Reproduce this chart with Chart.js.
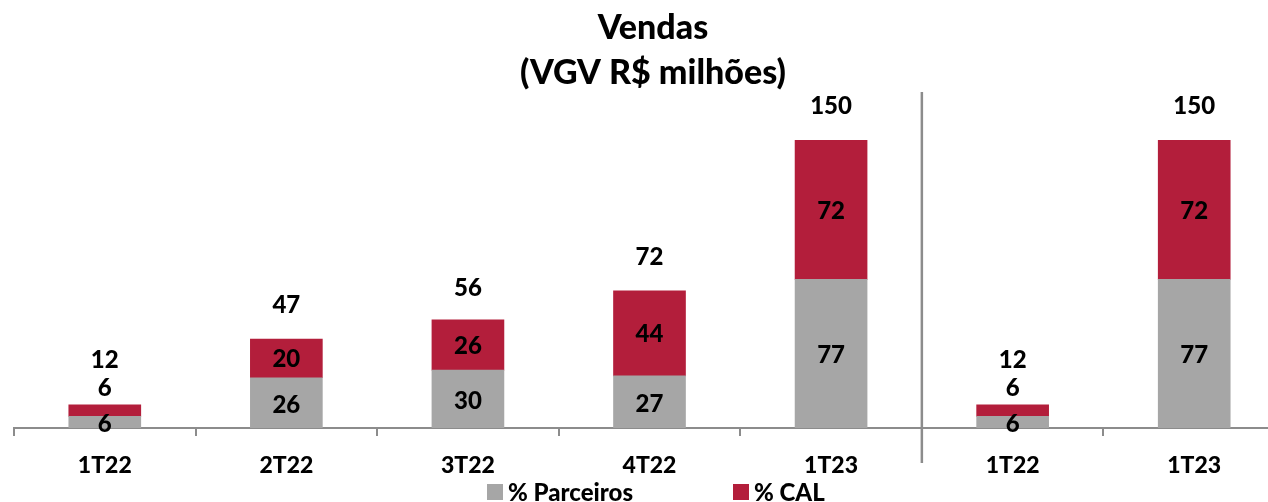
<!DOCTYPE html>
<html><head><meta charset="utf-8">
<script src="https://cdn.jsdelivr.net/npm/chart.js@4"></script>
<style>html,body{margin:0;padding:0;overflow:hidden;background:#fff}#wrap{width:1300px;height:502px;position:relative}</style>
</head><body><div id="wrap"><canvas id="c"></canvas></div>
<script>
const categories=['1T22','2T22','3T22','4T22','1T23','1T22','1T23'];
const parceiros=[6,26,30,27,77,6,77];
const cal=[6,20,26,44,72,6,72];
const totals=[12,47,56,72,150,12,150];
const seriesNames=['% Parceiros','% CAL'];
const titleLines=['Vendas','(VGV R$ milhões)'];
const separatorAfter=4;

const GRAY='#A6A6A6', RED='#B31E3B', FONT='Lato, "Open Sans", sans-serif', W='900';

const decor={
  id:'decor',
  afterDatasetsDraw(chart){
    const {ctx,scales:{x,y}}=chart;
    ctx.save();
    ctx.fillStyle='#000';
    ctx.textAlign='center';ctx.textBaseline='middle';
    ctx.font=W+' 34px '+FONT;
    ctx.fillText(titleLines[0],653,28);
    ctx.fillText(titleLines[1],653,73);
    const sx=(x.getPixelForValue(separatorAfter)+x.getPixelForValue(separatorAfter+1))/2;
    ctx.strokeStyle='#8C8C8C';ctx.lineWidth=2.5;
    ctx.beginPath();ctx.moveTo(sx,92);ctx.lineTo(sx,463);ctx.stroke();
    ctx.font=W+' 24px '+FONT;
    const base=y.getPixelForValue(0);
    categories.forEach((c,i)=>{
      const cx=x.getPixelForValue(i);
      const gTop=y.getPixelForValue(parceiros[i]);
      const rTop=y.getPixelForValue(parceiros[i]+cal[i]);
      ctx.fillText(String(parceiros[i]),cx,(base+gTop)/2+2);
      let shifted=false;
      if(gTop-rTop>=25){ctx.fillText(String(cal[i]),cx,(gTop+rTop)/2+1);}
      else{ctx.fillText(String(cal[i]),cx,rTop-17);shifted=true;}
      const tTop=y.getPixelForValue(totals[i]);
      ctx.fillText(String(totals[i]),cx,tTop-(shifted?45:32));
    });
    const items=[{t:seriesNames[0],c:GRAY,x:487},{t:seriesNames[1],c:RED,x:733}];
    ctx.textAlign='left';
    items.forEach(it=>{
      ctx.fillStyle=it.c;ctx.fillRect(it.x,484,16,16);
      ctx.fillStyle='#000';ctx.fillText(it.t,it.x+21,493);
    });
    ctx.restore();
  }
};

new Chart(document.getElementById('c'),{
  type:'bar',
  data:{labels:categories,datasets:[
    {label:seriesNames[0],data:parceiros,backgroundColor:GRAY,borderWidth:0,barThickness:72},
    {label:seriesNames[1],data:cal,backgroundColor:RED,borderWidth:0,barThickness:72}
  ]},
  options:{
    responsive:true,maintainAspectRatio:false,animation:false,
    layout:{padding:{top:92,left:14,right:15,bottom:0}},
    plugins:{legend:{display:false},tooltip:{enabled:false},title:{display:false}},
    scales:{
      x:{stacked:true,offset:true,
        grid:{offset:true,drawOnChartArea:false,drawTicks:true,tickLength:8,color:'#8C8C8C',lineWidth:2},
        border:{display:true,color:'#8C8C8C',width:2},
        ticks:{color:'#000',font:{family:FONT,size:23,weight:W},padding:16,maxRotation:0},
        afterFit(s){s.height=74;}
      },
      y:{stacked:true,display:false,min:0,max:174}
    }
  },
  plugins:[decor]
});
</script></body></html>
